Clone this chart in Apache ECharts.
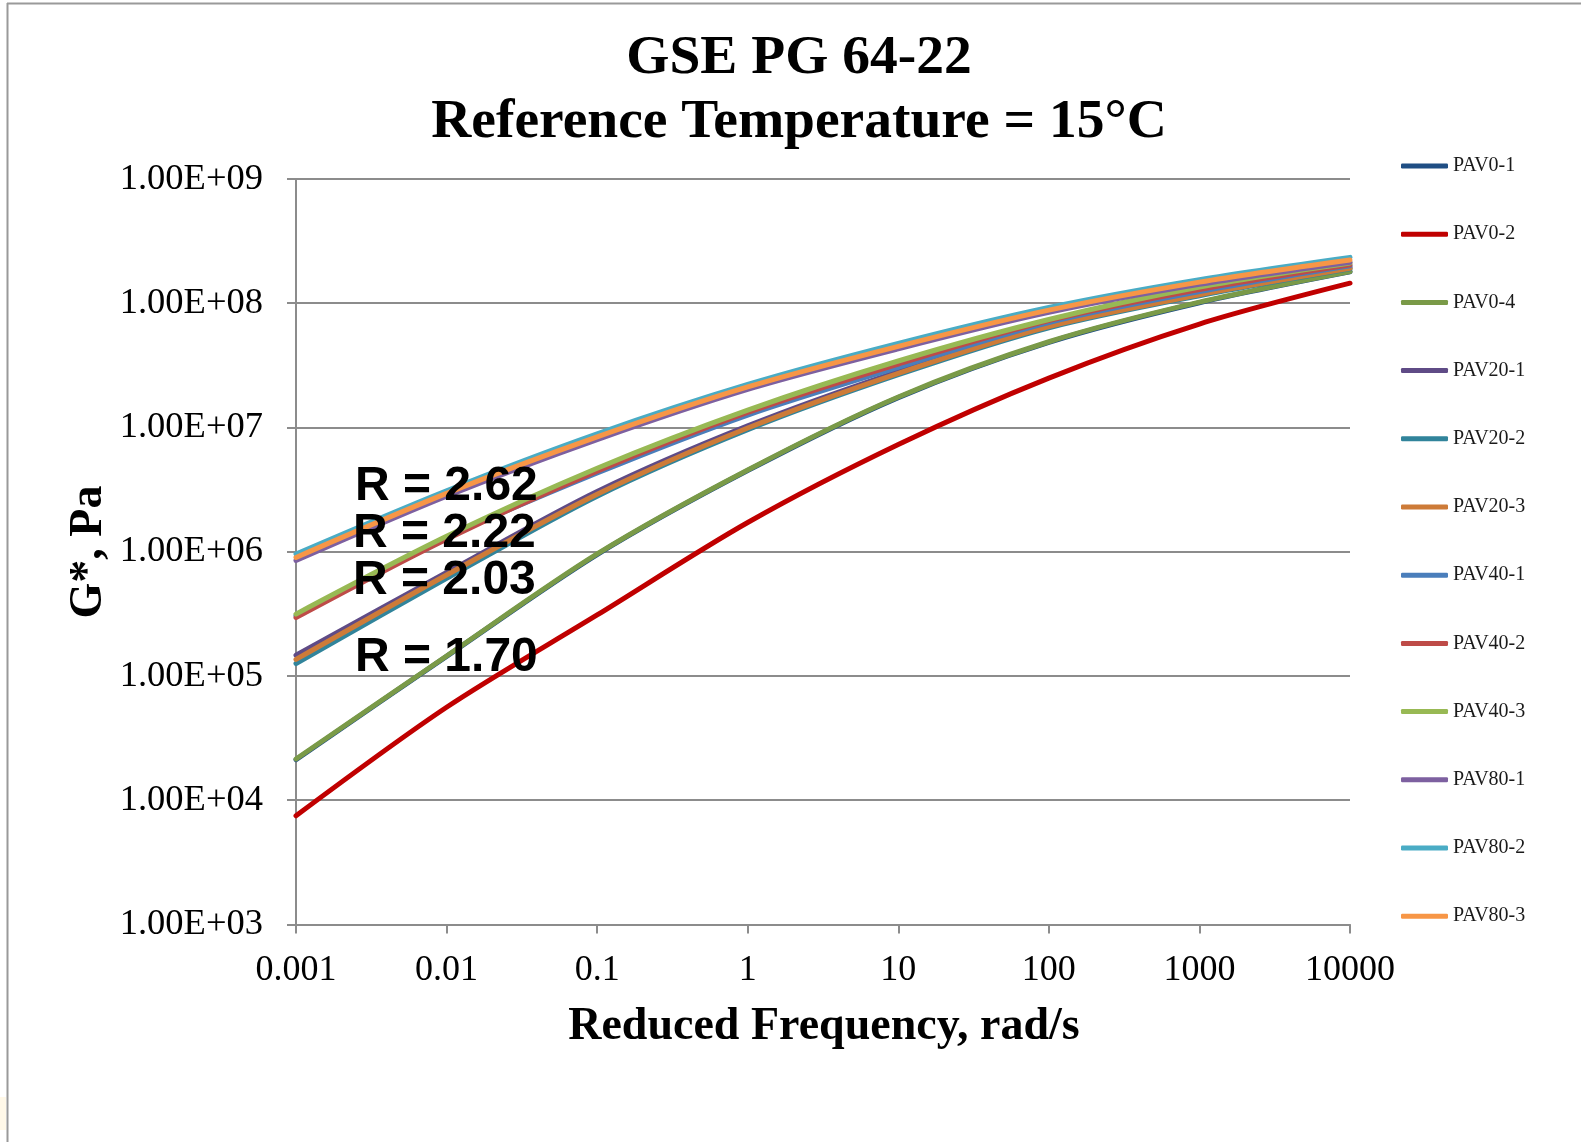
<!DOCTYPE html>
<html>
<head>
<meta charset="utf-8">
<title>GSE PG 64-22 master curves</title>
<script src="https://cdn.jsdelivr.net/npm/echarts@6/dist/echarts.min.js"></script>
<style>
  html, body { margin: 0; padding: 0; background: #ffffff; }
  #chart { width: 1581px; height: 1142px; }
</style>
</head>
<body>
<div id="chart"></div>
<script>
// Reduced frequency (rad/s) at which each master curve is sampled
const frequency = [0.001, 0.01, 0.1, 1, 10, 100, 1000, 10000];

// |G*| in Pa at 15 °C for each aging level / replicate
const pav0_1  = [2.12e4, 1.44e5, 9.5e5, 4.5e6, 1.74e7, 4.85e7, 1.01e8, 1.79e8];
const pav0_2  = [7.5e3, 5.6e4, 3.1e5, 1.72e6, 7.3e6, 2.5e7, 6.8e7, 1.45e8];
const pav0_4  = [2.15e4, 1.45e5, 9.6e5, 4.55e6, 1.76e7, 4.9e7, 1.02e8, 1.8e8];
const pav20_1 = [1.47e5, 6.8e5, 3.05e6, 1.03e7, 2.82e7, 6.7e7, 1.2e8, 1.95e8];
const pav20_2 = [1.26e5, 6.1e5, 2.8e6, 9.6e6, 2.66e7, 6.35e7, 1.15e8, 1.89e8];
const pav20_3 = [1.36e5, 6.5e5, 2.9e6, 9.9e6, 2.73e7, 6.5e7, 1.17e8, 1.91e8];
const pav40_1 = [3.05e5, 1.29e6, 4.3e6, 1.26e7, 3.05e7, 7.0e7, 1.24e8, 2.0e8];
const pav40_2 = [2.95e5, 1.26e6, 4.45e6, 1.32e7, 3.24e7, 7.25e7, 1.29e8, 2.04e8];
const pav40_3 = [3.15e5, 1.33e6, 4.7e6, 1.38e7, 3.43e7, 7.4e7, 1.35e8, 2.11e8];
const pav80_1 = [8.5e5, 2.8e6, 8.0e6, 2.03e7, 4.3e7, 8.45e7, 1.42e8, 2.14e8];
const pav80_2 = [9.6e5, 3.1e6, 8.9e6, 2.22e7, 4.75e7, 9.25e7, 1.55e8, 2.34e8];
const pav80_3 = [9.0e5, 2.95e6, 8.4e6, 2.12e7, 4.5e7, 8.8e7, 1.48e8, 2.23e8];

const seriesNames = ['PAV0-1', 'PAV0-2', 'PAV0-4', 'PAV20-1', 'PAV20-2', 'PAV20-3',
                     'PAV40-1', 'PAV40-2', 'PAV40-3', 'PAV80-1', 'PAV80-2', 'PAV80-3'];
const seriesValues = [pav0_1, pav0_2, pav0_4, pav20_1, pav20_2, pav20_3,
                      pav40_1, pav40_2, pav40_3, pav80_1, pav80_2, pav80_3];
const seriesColors = ['#1f4e84', '#c00000', '#7a9a48', '#5f4b86', '#31849b', '#cd7b38',
                      '#4a7ebb', '#be4b48', '#98b954', '#7d60a0', '#4aacc5', '#f79646'];

// Axis tick labels, one per decade
const xTickLabels = ['0.001', '0.01', '0.1', '1', '10', '100', '1000', '10000'];
const yTickLabels = ['1.00E+03', '1.00E+04', '1.00E+05', '1.00E+06', '1.00E+07', '1.00E+08', '1.00E+09'];

// CA-model R values for each aging group
const rLabels = ['R = 2.62', 'R = 2.22', 'R = 2.03', 'R = 1.70'];

const serif = '"Liberation Serif", "Times New Roman", serif';
const sans = '"Liberation Sans", Arial, sans-serif';
const gridColor = '#8c8c8c';

const chart = echarts.init(document.getElementById('chart'), null, { renderer: 'canvas' });

const series = seriesNames.map((name, i) => ({
  name: name,
  type: 'line',
  data: frequency.map((f, k) => [f, seriesValues[i][k]]),
  showSymbol: false,
  symbol: 'none',
  smooth: 0.3,
  lineStyle: { width: 5, color: seriesColors[i], cap: 'round' },
  itemStyle: { color: seriesColors[i] },
  emphasis: { disabled: true },
  z: 2
}));

const rPositions = [[355, 487], [353, 534], [353, 581], [355, 658]];

const option = {
  animation: false,
  backgroundColor: '#ffffff',
  grid: { left: 296, right: 231, top: 179, bottom: 217.5, containLabel: false },
  legend: {
    orient: 'vertical',
    left: 1396,
    top: 151,
    itemWidth: 47,
    itemHeight: 5,
    itemGap: 48.2,
    icon: 'roundRect',
    textStyle: { fontFamily: serif, fontSize: 20, color: '#1a1a1a', lineHeight: 20 },
    data: seriesNames
  },
  xAxis: {
    type: 'log',
    logBase: 10,
    min: 0.001,
    max: 10000,
    splitNumber: 7,
    axisLine: { show: true, onZero: false, lineStyle: { color: gridColor, width: 2 } },
    axisTick: { show: true, inside: false, length: 9, lineStyle: { color: gridColor, width: 2 } },
    minorTick: { show: false },
    splitLine: { show: false },
    axisLabel: {
      show: true,
      showMinLabel: true,
      showMaxLabel: true,
      margin: 28,
      fontFamily: serif,
      fontSize: 36,
      color: '#000000',
      formatter: (v) => xTickLabels[Math.round(Math.log10(v)) + 3]
    }
  },
  yAxis: {
    type: 'log',
    logBase: 10,
    min: 1e3,
    max: 1e9,
    splitNumber: 6,
    axisLine: { show: true, onZero: false, lineStyle: { color: gridColor, width: 2 } },
    axisTick: { show: true, inside: false, length: 9, lineStyle: { color: gridColor, width: 2 } },
    minorTick: { show: false },
    splitLine: { show: true, lineStyle: { color: gridColor, width: 2 } },
    axisLabel: {
      show: true,
      showMinLabel: true,
      showMaxLabel: true,
      margin: 33,
      padding: [4, 0, 0, 0],
      fontFamily: serif,
      fontSize: 36.5,
      color: '#000000',
      formatter: (v) => yTickLabels[Math.round(Math.log10(v)) - 3]
    }
  },
  graphic: [
    // frame edges
    { type: 'line', silent: true, shape: { x1: 7, y1: 3.5, x2: 1581, y2: 3.5 }, style: { stroke: '#9a9a9a', lineWidth: 2 } },
    { type: 'line', silent: true, shape: { x1: 7.5, y1: 3, x2: 7.5, y2: 1142 }, style: { stroke: '#9a9a9a', lineWidth: 2 } },
    { type: 'rect', silent: true, shape: { x: 0, y: 1097, width: 6, height: 33 }, style: { fill: '#fff8e8' } },
    // chart title
    { type: 'text', silent: true, x: 799, y: 59, style: { text: 'GSE PG 64-22', font: 'bold 55.5px ' + serif, fill: '#000000', textAlign: 'center', textVerticalAlign: 'middle' } },
    { type: 'text', silent: true, x: 799, y: 122.5, style: { text: 'Reference Temperature = 15°C', font: 'bold 55.5px ' + serif, fill: '#000000', textAlign: 'center', textVerticalAlign: 'middle' } },
    // axis titles
    { type: 'text', silent: true, x: 824, y: 1027, style: { text: 'Reduced Frequency, rad/s', font: 'bold 46px ' + serif, fill: '#000000', textAlign: 'center', textVerticalAlign: 'middle' } },
    { type: 'text', silent: true, x: 89, y: 552, rotation: Math.PI / 2, style: { text: 'G*, Pa', font: 'bold 46px ' + serif, fill: '#000000', textAlign: 'center', textVerticalAlign: 'middle' } }
  ].concat(rLabels.map((t, i) => ({
    type: 'text', silent: true, z: 100, x: rPositions[i][0], y: rPositions[i][1],
    style: { text: t, font: 'bold 48px ' + sans, fill: '#000000', textAlign: 'left', textVerticalAlign: 'middle' }
  }))),
  series: series
};

chart.setOption(option);
</script>
</body>
</html>
